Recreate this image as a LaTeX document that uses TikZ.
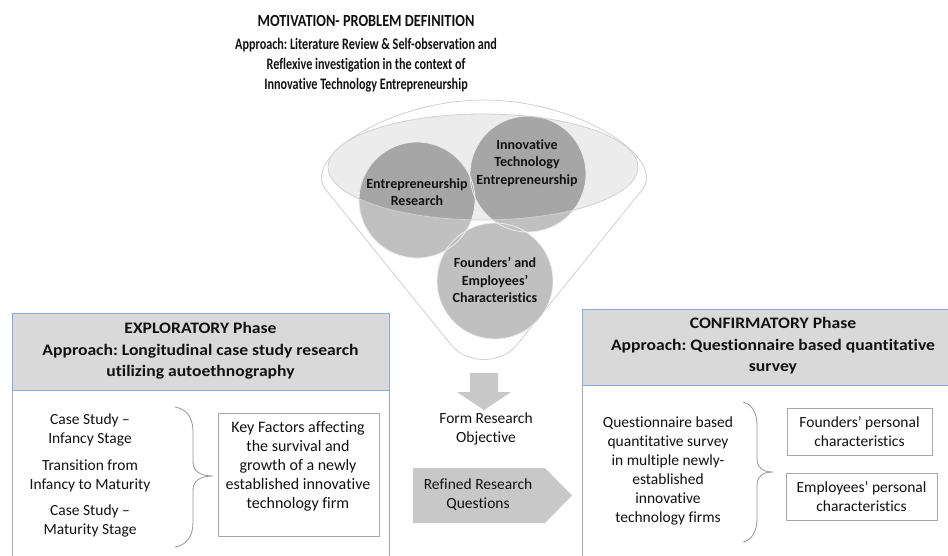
\documentclass[tikz,border=0pt]{standalone}
\usepackage{fontspec}
\setmainfont{Carlito}[Ligatures=NoCommon]
\newfontfamily\ttlfont{Carlito}[FakeStretch=0.84, Ligatures=NoCommon]
\newfontfamily\subfont{Carlito}[FakeStretch=0.76, Ligatures=NoCommon]
\newfontfamily\hdrfont{Carlito}[FakeStretch=1.1, Ligatures=NoCommon]
\frenchspacing
\definecolor{hdrfill}{HTML}{D9D9D9}
\definecolor{hdrline}{HTML}{8FAADC}
\definecolor{boxline}{HTML}{A6A6A6}
\definecolor{arrowfill}{HTML}{C8C8C8}
\definecolor{funline}{HTML}{D0D0D0}
\definecolor{ellfill}{HTML}{ECECEC}
\definecolor{circout}{HTML}{C0C0C0}
\definecolor{circin}{HTML}{A6A6A6}
\definecolor{txt}{HTML}{111111}
\begin{document}
\frenchspacing
\begin{tikzpicture}[x=1pt,y=-1pt,
  ttl/.style={font=\ttlfont\bfseries\fontsize{17}{20}\selectfont, align=center, text=txt, inner sep=0pt},
  subttl/.style={font=\subfont\bfseries\fontsize{16}{20}\selectfont, align=center, text=txt, inner sep=0pt},
  hdr/.style={font=\hdrfont\bfseries\fontsize{16}{21.5}\selectfont, align=center, text=txt, inner sep=0pt},
  body/.style={font=\fontsize{15.5}{19}\selectfont, align=center, text=txt, inner sep=0pt},
  clab/.style={font=\bfseries\fontsize{14}{17.5}\selectfont, align=center, text=txt, inner sep=0pt},
  outbox/.style={draw=boxline, line width=0.8pt, fill=white},
  blockarrow/.style={fill=arrowfill, draw=none},
  bracestyle/.style={draw=boxline!90!black, line width=0.8pt},
  circline/.style={draw=white!85!gray, line width=0.8pt},
]
\useasboundingbox (0,0) rectangle (948,555);
\clip (0,0) rectangle (948,555);

% ---- title ----
\node[ttl] (t1) at (366,21) {MOTIVATION- PROBLEM DEFINITION};
\node[subttl] (t2) at (366,65) {Approach: Literature Review \& Self-observation and\\Reflexive investigation in the context of\\Innovative Technology Entrepreneurship};

% ---- funnel ----
\draw[funline, fill=white, line width=0.8pt] (452,346) -- (326,190) .. controls (300,158) and (390,100) .. (484,100) .. controls (578,100) and (668,158) .. (642,190) -- (516,346) .. controls (500,364) and (468,364) .. (452,346) -- cycle;
\coordinate (ell) at (483,167);
\fill[ellfill] (ell) ellipse [x radius=155pt, y radius=53pt];
\coordinate (cER) at (417,200);
\coordinate (cIT) at (528,174);
\coordinate (cFE) at (495,281);
\fill[circout] (cER) circle[radius=58pt];
\fill[circout] (cIT) circle[radius=58pt];
\fill[circout] (cFE) circle[radius=58pt];
\begin{scope}
  \clip (ell) ellipse [x radius=155pt, y radius=53pt];
  \fill[circin] (cER) circle[radius=58pt];
  \fill[circin] (cIT) circle[radius=58pt];
  \fill[circin] (cFE) circle[radius=58pt];
\end{scope}
\draw[circline] (cER) circle[radius=58pt];
\draw[circline] (cIT) circle[radius=58pt];
\draw[circline] (cFE) circle[radius=58pt];
\draw[funline, line width=0.8pt] (ell) ellipse [x radius=155pt, y radius=53pt];

\node[clab] (lER) at (417,192) {Entrepreneurship\\Research};
\node[clab] (lIT) at (527,163) {Innovative\\Technology\\Entrepreneurship};
\node[clab] (lFE) at (495,280) {Founders’ and\\Employees’\\Characteristics};

% ---- down arrow and refined arrow ----
\fill[blockarrow] (470,373) -- (498,373) -- (498,392) -- (511,392) -- (484,410) -- (457,392) -- (470,392) -- cycle;
\node[body] (obj) at (486,429) {Form Research\\Objective};
\fill[blockarrow] (413,468) -- (545,468) -- (572,495.5) -- (545,523) -- (413,523) -- cycle;
\node[body] (rq) at (478,495) {Refined Research\\Questions};

% ---- left (exploratory) box ----
\draw[boxline, line width=0.8pt] (12,390) -- (12,560);
\draw[boxline, line width=0.8pt] (389,390) -- (389,560);
\filldraw[fill=hdrfill, draw=hdrline, line width=0.9pt] (12,313) rectangle (389,390);
\node[hdr] (lh) at (200.5,351) {EXPLORATORY Phase\\Approach: Longitudinal case study research\\utilizing autoethnography};
\node[body] (cs1) at (90,430) {Case Study –\\Infancy Stage};
\node[body] (tr) at (90,476) {Transition from\\Infancy to Maturity};
\node[body] (cs2) at (90,521) {Case Study –\\Maturity Stage};
\coordinate (lbt) at (175,407);
\coordinate (lbm) at (213,476);
\coordinate (lbb) at (175,547);
\draw[bracestyle] (lbt) .. controls (187,409) and (193,418) .. (193,432) -- (193,462) .. controls (193,471) and (200,476) .. (lbm) .. controls (200,476) and (193,481) .. (193,490) -- (193,522) .. controls (193,536) and (187,545) .. (lbb);
\node[outbox, minimum width=161pt, minimum height=123pt] (kf) at (298.5,474.5) {};
\node[body, font=\fontsize{16}{19}\selectfont] (kft) at (298,466) {Key Factors affecting\\the survival and\\growth of a newly\\established innovative\\technology firm};

% ---- right (confirmatory) box ----
\draw[boxline, line width=0.8pt] (582,385) -- (582,560);
\filldraw[fill=hdrfill, draw=hdrline, line width=0.9pt] (582,309) rectangle (964,385);
\node[hdr] (rh) at (773,346) {CONFIRMATORY Phase\\Approach: Questionnaire based quantitative\\survey};
\node[body] (qs) at (668,471) {Questionnaire based\\quantitative survey\\in multiple newly-\\established\\innovative\\technology firms};
\coordinate (rbt) at (743,402);
\coordinate (rbm) at (773,472);
\coordinate (rbb) at (743,542);
\draw[bracestyle] (rbt) .. controls (752,404) and (757,413) .. (757,426) -- (757,458) .. controls (757,467) and (762,472) .. (rbm) .. controls (762,472) and (757,477) .. (757,486) -- (757,518) .. controls (757,531) and (752,540) .. (rbb);
\node[outbox, minimum width=145pt, minimum height=47pt] (fb) at (859.5,431.5) {};
\node[body] (fbt) at (859.5,432) {Founders’ personal\\characteristics};
\node[outbox, minimum width=151pt, minimum height=47pt] (eb) at (861.5,496.5) {};
\node[body] (ebt) at (861.5,497) {Employees’ personal\\characteristics};
\end{tikzpicture}
\end{document}
